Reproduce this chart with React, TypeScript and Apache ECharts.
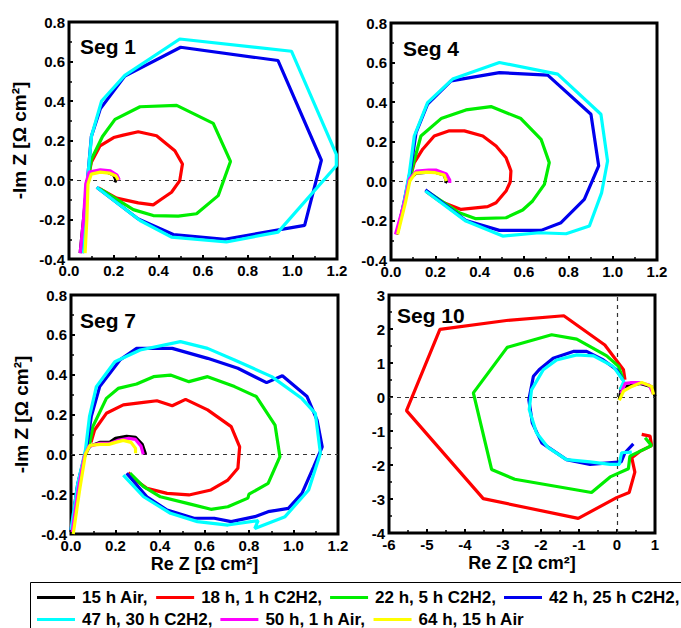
import React, { useEffect, useRef } from "react";
import * as echarts from "echarts";

// ---------- legend / series names ----------
const seriesNames = [
  "15 h Air",
  "18 h, 1 h C2H2",
  "22 h, 5 h C2H2",
  "42 h, 25 h C2H2",
  "47 h, 30 h C2H2",
  "50 h, 1 h Air",
  "64 h, 15 h Air",
];
const seriesColors = ["#000000", "#ff0000", "#00ee00", "#0000ee", "#00ffff", "#ff00ff", "#ffff00"];

const segLabels = ["Seg 1", "Seg 4", "Seg 7", "Seg 10"];

// ---------- tick settings ----------
const smallTicksX = { min: 0, max: 1.2, interval: 0.2 };
const smallTicksY = { min: -0.4, max: 0.8, interval: 0.2 };
const bigTicksX = { min: -6, max: 1, interval: 1 };
const bigTicksY = { min: -4, max: 3, interval: 1 };

// ---------- Seg 1 ----------
const seg1_15hAir = [[0.05,-0.37],[0.065,-0.2],[0.08,-0.02],[0.095,0.03],[0.13,0.045],[0.17,0.04],[0.2,0.025],[0.21,0.0],[0.205,-0.012]];
const seg1_18h = [[0.085,0.0],[0.1,0.09],[0.139,0.173],[0.2,0.215],[0.243,0.227],[0.31,0.244],[0.392,0.224],[0.474,0.148],[0.508,0.081],[0.496,-0.003],[0.459,-0.062],[0.41,-0.1],[0.377,-0.126],[0.31,-0.116],[0.213,-0.092],[0.131,-0.04]];
const seg1_22h = [[0.085,0.0],[0.101,0.106],[0.15,0.22],[0.206,0.307],[0.318,0.371],[0.482,0.378],[0.646,0.287],[0.723,0.094],[0.668,-0.079],[0.571,-0.171],[0.489,-0.183],[0.377,-0.18],[0.288,-0.15],[0.139,-0.045]];
const seg1_42h = [[0.06,-0.37],[0.075,-0.15],[0.085,0.03],[0.1,0.22],[0.14,0.36],[0.25,0.526],[0.5,0.672],[0.936,0.605],[1.13,0.1],[1.055,-0.23],[0.698,-0.3],[0.467,-0.276],[0.31,-0.197],[0.124,-0.037]];
const seg1_47h = [[0.065,-0.37],[0.075,-0.15],[0.086,0.039],[0.101,0.224],[0.146,0.4],[0.25,0.53],[0.496,0.714],[0.996,0.652],[1.197,0.13],[1.197,0.072],[0.936,-0.264],[0.705,-0.314],[0.459,-0.289],[0.318,-0.205],[0.124,-0.037]];
const seg1_50h = [[0.05,-0.37],[0.065,-0.2],[0.075,-0.02],[0.09,0.04],[0.14,0.052],[0.185,0.047],[0.215,0.025],[0.225,0.0]];
const seg1_64h = [[0.072,-0.37],[0.08,-0.2],[0.085,-0.02],[0.1,0.03],[0.14,0.04],[0.18,0.035],[0.21,0.02],[0.22,0.0]];

// ---------- Seg 4 ----------
const seg4_15hAir = [[0.026,-0.27],[0.06,-0.11],[0.083,0.008],[0.113,0.04],[0.17,0.045],[0.2,0.045],[0.24,0.03],[0.25,0.0],[0.245,-0.01]];
const seg4_18h = [[0.09,0.03],[0.105,0.093],[0.143,0.161],[0.195,0.228],[0.263,0.254],[0.331,0.254],[0.414,0.228],[0.474,0.177],[0.519,0.118],[0.541,0.051],[0.538,-0.005],[0.519,-0.051],[0.474,-0.11],[0.436,-0.13],[0.316,-0.144],[0.218,-0.101],[0.161,-0.056]];
const seg4_22h = [[0.09,0.03],[0.098,0.076],[0.135,0.228],[0.226,0.316],[0.338,0.36],[0.451,0.377],[0.586,0.316],[0.677,0.211],[0.714,0.093],[0.692,-0.017],[0.639,-0.101],[0.594,-0.147],[0.519,-0.186],[0.383,-0.191],[0.308,-0.161],[0.161,-0.051]];
const seg4_42h = [[0.03,-0.26],[0.06,-0.1],[0.09,0.068],[0.113,0.245],[0.165,0.389],[0.271,0.507],[0.489,0.549],[0.707,0.536],[0.902,0.338],[0.937,0.076],[0.872,-0.093],[0.767,-0.211],[0.677,-0.25],[0.489,-0.25],[0.338,-0.2],[0.155,-0.045]];
const seg4_47h = [[0.03,-0.26],[0.06,-0.1],[0.083,0.042],[0.105,0.228],[0.165,0.397],[0.278,0.516],[0.489,0.6],[0.752,0.541],[0.947,0.338],[0.977,0.101],[0.95,-0.06],[0.895,-0.228],[0.79,-0.267],[0.669,-0.262],[0.504,-0.279],[0.338,-0.203],[0.155,-0.051]];
const seg4_50h = [[0.02,-0.27],[0.06,-0.11],[0.083,0.01],[0.115,0.05],[0.17,0.055],[0.205,0.055],[0.25,0.035],[0.265,0.005],[0.265,-0.01]];
const seg4_64h = [[0.03,-0.27],[0.065,-0.11],[0.085,0.0],[0.11,0.04],[0.16,0.045],[0.2,0.042],[0.24,0.03],[0.25,0.0]];

// ---------- Seg 7 ----------
const seg7_15hAir = [[0.0,-0.39],[0.03,-0.16],[0.061,-0.01],[0.083,0.04],[0.129,0.06],[0.174,0.06],[0.2,0.08],[0.25,0.09],[0.29,0.085],[0.32,0.05],[0.335,0.0]];
const seg7_18h = [[0.09,0.06],[0.106,0.122],[0.159,0.206],[0.235,0.248],[0.326,0.261],[0.386,0.269],[0.455,0.244],[0.515,0.276],[0.614,0.223],[0.72,0.139],[0.758,0.038],[0.75,-0.07],[0.705,-0.129],[0.629,-0.179],[0.53,-0.204],[0.432,-0.196],[0.341,-0.171],[0.28,-0.121],[0.258,-0.092]];
const seg7_22h = [[0.08,0.03],[0.098,0.139],[0.159,0.281],[0.212,0.331],[0.295,0.353],[0.371,0.39],[0.447,0.398],[0.53,0.365],[0.614,0.39],[0.735,0.34],[0.833,0.29],[0.917,0.147],[0.939,-0.012],[0.886,-0.146],[0.8,-0.2],[0.795,-0.22],[0.705,-0.263],[0.629,-0.276],[0.523,-0.246],[0.402,-0.213],[0.326,-0.162],[0.265,-0.095]];
const seg7_42h = [[0.0,-0.38],[0.03,-0.15],[0.071,0.038],[0.091,0.189],[0.129,0.34],[0.22,0.474],[0.295,0.532],[0.455,0.532],[0.614,0.482],[0.75,0.432],[0.879,0.36],[0.95,0.395],[1.061,0.29],[1.106,0.172],[1.129,0.038],[1.091,-0.062],[1.038,-0.196],[0.977,-0.271],[0.886,-0.288],[0.826,-0.313],[0.72,-0.338],[0.644,-0.321],[0.553,-0.321],[0.432,-0.28],[0.341,-0.213],[0.25,-0.095]];
const seg7_47h = [[0.0,-0.38],[0.03,-0.15],[0.065,0.022],[0.083,0.189],[0.114,0.34],[0.197,0.465],[0.311,0.524],[0.492,0.566],[0.614,0.532],[0.735,0.474],[0.902,0.39],[1.038,0.28],[1.098,0.206],[1.121,0.005],[1.068,-0.179],[0.962,-0.313],[0.826,-0.372],[0.841,-0.333],[0.705,-0.355],[0.568,-0.338],[0.447,-0.296],[0.326,-0.213],[0.235,-0.104]];
const seg7_50h = [[0.005,-0.39],[0.035,-0.16],[0.06,-0.01],[0.08,0.04],[0.13,0.055],[0.175,0.055],[0.21,0.07],[0.26,0.08],[0.29,0.075],[0.315,0.04],[0.325,0.0]];
const seg7_64h = [[0.01,-0.4],[0.04,-0.17],[0.065,0.0],[0.085,0.045],[0.13,0.05],[0.17,0.05],[0.2,0.06],[0.235,0.07],[0.27,0.06],[0.29,0.03],[0.29,0.005]];

// ---------- Seg 10 ----------
const seg10_15hAir = [[0.06,-0.08],[0.12,0.3],[0.34,0.33],[0.61,0.4],[0.91,0.3],[1.0,0.02]];
const seg10_18h = [[0.65,-1.1],[0.87,-1.15],[0.91,-1.43],[0.6,-1.6],[0.39,-1.79],[0.47,-2.21],[0.32,-2.81],[-0.01,-2.96],[-1.02,-3.57],[-3.52,-2.99],[-5.54,-0.4],[-4.66,1.99],[-2.91,2.25],[-1.4,2.39],[-0.32,1.53],[0.17,0.8],[0.21,0.51]];
const seg10_22h = [[0.74,-1.2],[0.91,-1.43],[0.34,-1.74],[0.3,-2.11],[-0.18,-2.35],[-0.67,-2.81],[-2.69,-2.42],[-3.3,-2.13],[-3.78,0.12],[-2.89,1.46],[-1.72,1.83],[-1.06,1.7],[-0.27,1.21],[0.04,0.9],[0.15,0.55]];
const seg10_42h = [[0.43,-1.38],[0.21,-1.64],[0.11,-1.91],[-0.71,-1.98],[-1.33,-1.84],[-1.98,-1.35],[-2.23,-0.76],[-2.32,-0.08],[-2.2,0.61],[-2.05,0.8],[-1.68,1.14],[-1.15,1.34],[-0.8,1.34],[-0.36,1.09],[-0.01,0.8],[0.15,0.51]];
const seg10_47h = [[0.39,-1.62],[0.12,-1.64],[0.06,-1.98],[-0.18,-1.98],[-0.71,-1.91],[-1.33,-1.84],[-1.81,-1.49],[-2.12,-1.05],[-2.31,-0.37],[-2.25,0.21],[-1.94,0.8],[-1.59,1.09],[-1.06,1.24],[-0.62,1.21],[-0.1,0.9],[0.18,0.46],[0.08,0.21]];
const seg10_50h = [[0.1,0.1],[0.22,0.4],[0.35,0.42],[0.6,0.42],[0.85,0.35],[0.95,0.1]];
const seg10_64h = [[0.06,-0.1],[0.17,0.17],[0.39,0.31],[0.65,0.43],[0.91,0.31],[0.96,0.07]];

const panels = [
  [seg1_15hAir, seg1_18h, seg1_22h, seg1_42h, seg1_47h, seg1_50h, seg1_64h],
  [seg4_15hAir, seg4_18h, seg4_22h, seg4_42h, seg4_47h, seg4_50h, seg4_64h],
  [seg7_15hAir, seg7_18h, seg7_22h, seg7_42h, seg7_47h, seg7_50h, seg7_64h],
  [seg10_15hAir, seg10_18h, seg10_22h, seg10_42h, seg10_47h, seg10_50h, seg10_64h],
];

const FONT = "Liberation Sans, Arial, sans-serif";
const AXIS_NAME_Y = "-Im Z [Ω cm²]";
const AXIS_NAME_X = "Re Z [Ω cm²]";

export default function App() {
  const ref = useRef<HTMLDivElement>(null);
  useEffect(() => {
    if (!ref.current) return;
    const chart = echarts.init(ref.current, null, { renderer: "svg" });

    const grids = [
      { left: 69, top: 22, width: 268, height: 237 },
      { left: 391, top: 23, width: 266, height: 237 },
      { left: 71, top: 295, width: 267, height: 239 },
      { left: 389, top: 295, width: 266, height: 238 },
    ].map((g) => ({ ...g, show: true, borderColor: "#000", borderWidth: 3, backgroundColor: "transparent" }));

    const labelStyle = { color: "#000", fontWeight: "bold", fontSize: 15, fontFamily: FONT };
    const common = {
      axisLine: { show: false, onZero: false },
      axisTick: { show: true, inside: true, length: 4, lineStyle: { color: "#000", width: 2 } },
      minorTick: { show: true, splitNumber: 2, length: 3, lineStyle: { color: "#000", width: 1.5 } },
      splitLine: { show: false },
    };

    const xAxis = [0, 1, 2, 3].map((i) => {
      const t = i === 3 ? bigTicksX : smallTicksX;
      return {
        type: "value",
        gridIndex: i,
        ...t,
        ...common,
        axisLabel: {
          ...labelStyle,
          margin: 4,
          formatter: (v: number) => (i === 3 ? String(Math.round(v)) : v.toFixed(1)),
        },
        name: i >= 2 ? AXIS_NAME_X : "",
        nameLocation: "middle",
        nameGap: 21,
        nameTextStyle: { color: "#000", fontWeight: "bold", fontSize: 18, fontFamily: FONT },
      };
    });
    const yAxis = [0, 1, 2, 3].map((i) => {
      const t = i === 3 ? bigTicksY : smallTicksY;
      return {
        type: "value",
        gridIndex: i,
        ...t,
        ...common,
        axisLabel: {
          ...labelStyle,
          margin: 4,
          formatter: (v: number) => (i === 3 ? String(Math.round(v)) : v.toFixed(1)),
        },
        name: i === 0 || i === 2 ? AXIS_NAME_Y : "",
        nameLocation: "middle",
        nameRotate: 90,
        nameGap: 40,
        nameTextStyle: { color: "#000", fontWeight: "bold", fontSize: 19, fontFamily: FONT },
      };
    });

    const series: any[] = [];
    panels.forEach((p, gi) => {
      p.forEach((data, si) => {
        const s: any = {
          type: "line",
          name: seriesNames[si],
          xAxisIndex: gi,
          yAxisIndex: gi,
          data,
          showSymbol: false,
          symbol: "none",
          lineStyle: { color: seriesColors[si], width: 3.2 },
          itemStyle: { color: seriesColors[si] },
          z: 3 + si,
        };
        if (si === 0) {
          const lines: any[] = [{ yAxis: 0 }];
          if (gi === 3) lines.push({ xAxis: 0 });
          s.markLine = {
            silent: true,
            symbol: "none",
            label: { show: false },
            lineStyle: { color: "#333", type: [4, 4], width: 1.2 },
            data: lines,
            z: 1,
          };
        }
        series.push(s);
      });
    });

    const segPos = [
      { x: 80, y: 46 },
      { x: 403, y: 48 },
      { x: 80, y: 320 },
      { x: 397, y: 315 },
    ];

    const legendCommon = {
      icon: "rect",
      itemWidth: 38,
      itemHeight: 3,
      itemGap: 8,
      selectedMode: false,
      padding: 0,
      textStyle: { color: "#000", fontWeight: "bold", fontSize: 17, fontFamily: FONT, padding: [0, 0, 0, 2] },
    };

    chart.setOption({
      animation: false,
      grid: grids,
      xAxis,
      yAxis,
      series,
      legend: [
        {
          ...legendCommon,
          left: 37,
          top: 589,
          data: seriesNames.slice(0, 4),
          formatter: (n: string) => n + ",",
        },
        {
          ...legendCommon,
          left: 37,
          top: 611,
          data: seriesNames.slice(4),
          formatter: (n: string) => (n === seriesNames[6] ? n : n + ","),
        },
      ],
      graphic: [
        {
          type: "rect",
          shape: { x: 30.5, y: 582.5, width: 700, height: 80 },
          style: { fill: "none", stroke: "#000", lineWidth: 1 },
          silent: true,
        },
        ...segLabels.map((t, i) => ({
          type: "text",
          x: segPos[i].x,
          y: segPos[i].y,
          style: {
            text: t,
            fill: "#000",
            font: `bold 21px ${FONT}`,
            textVerticalAlign: "middle",
          },
          z: 10,
        })),
      ],
    });
    return () => chart.dispose();
  }, []);

  return <div ref={ref} style={{ width: 681, height: 628, position: "absolute", left: 0, top: 0 }} />;
}
